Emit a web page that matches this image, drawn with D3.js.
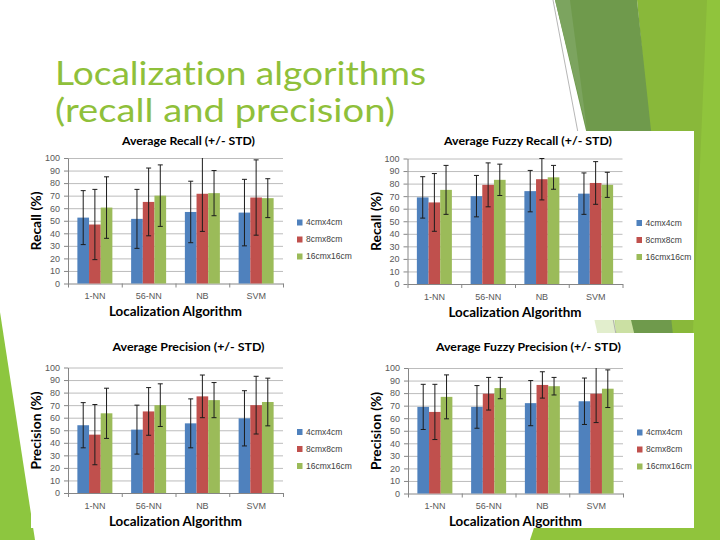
<!DOCTYPE html>
<html>
<head>
<meta charset="utf-8">
<script src="https://cdn.jsdelivr.net/npm/d3@7"></script>
<style>
  body { margin: 0; background: #fff; }
  svg { display: block; font-variant-ligatures: none; font-feature-settings: "liga" 0, "clig" 0; }
</style>
</head>
<body>
<div class="slide"></div>
<script>
// 類別 / 系列
var categories = ["1-NN", "56-NN", "NB", "SVM"];
var seriesNames = ["4cmx4cm", "8cmx8cm", "16cmx16cm"];
var yTicks = [0, 10, 20, 30, 40, 50, 60, 70, 80, 90, 100];

// Average Recall
var recall4 = [52.5, 51.5, 57, 56.5];
var recall8 = [47, 65, 71.5, 68.5];
var recall16 = [60.5, 70, 72, 68];
var recallStd4 = [21.5, 23.5, 24.5, 26.5];
var recallStd8 = [28, 27, 30, 30];
var recallStd16 = [24.5, 24.5, 18, 15.5];

// Average Fuzzy Recall
var fuzzyRecall4 = [69, 70, 74, 72];
var fuzzyRecall8 = [65, 79, 83.5, 80.5];
var fuzzyRecall16 = [75, 83, 85, 79];
var fuzzyRecallStd4 = [16.5, 16.5, 16.5, 16.5];
var fuzzyRecallStd8 = [23, 17.5, 16.5, 17];
var fuzzyRecallStd16 = [19.5, 12.5, 9.5, 10];

// Average Precision
var precision4 = [54, 50.5, 55.5, 59.5];
var precision8 = [46.5, 65, 77, 70];
var precision16 = [63.5, 70, 74, 72.5];
var precisionStd4 = [18, 19.5, 19.5, 22];
var precisionStd8 = [24, 19, 17, 23];
var precisionStd16 = [20, 17, 14, 19];

// Average Fuzzy Precision
var fuzzyPrecision4 = [69, 69, 72, 73.5];
var fuzzyPrecision8 = [65, 79.5, 86.5, 79.5];
var fuzzyPrecision16 = [77, 84, 85.5, 83.5];
var fuzzyPrecisionStd4 = [18, 17, 18, 18.5];
var fuzzyPrecisionStd8 = [22, 13, 10.5, 23];
var fuzzyPrecisionStd16 = [17.5, 8.5, 7, 15];

var colors = ["#4F81BD", "#C0504D", "#9BBB59"];

// 畫布
var width = 720;
var height = 540;

var svg = d3
  .select(".slide")
  .append("svg")
  .attr("width", width)
  .attr("height", height)
  .style("background-color", "#fff");

// 背景裝飾（右側與左下的綠色多邊形）
var deco = svg.append("g");
deco.append("polygon").attr("points", "706,0 720,0 720,540 530,540").attr("fill", "#90C43C");
deco.append("polygon").attr("points", "590,300 614,300 617,345 600,345").attr("fill", "#E2EECD");
deco.append("polygon").attr("points", "614,300 650,300 650,345 617,345").attr("fill", "#CBE0A3");
deco.append("polygon").attr("points", "637,0 707,0 690,400 675,400").attr("fill", "#89B83A");
deco.append("polygon").attr("points", "555,0 637,0 680,400 650,400").attr("fill", "#6F9A4C");
deco.append("polygon").attr("points", "555,0 570,0 587,130").attr("fill", "#7CA45F");
deco
  .append("line")
  .attr("x1", 553).attr("y1", 0).attr("x2", 618).attr("y2", 345)
  .attr("stroke", "#a3a3a3").attr("stroke-width", 0.8);
deco.append("polygon").attr("points", "0,312 0,540 35,540").attr("fill", "#8DC63F");

// 四張圖的設定
var panels = [
  {
    title: "Average Recall (+/- STD)", titleLen: 133, titleY: 140.5,
    yLabel: "Recall (%)", yLabelLen: 59,
    dx: 0, dy: 0, box: [28, 131, 338, 195],
    means: [recall4, recall8, recall16],
    stds: [recallStd4, recallStd8, recallStd16],
  },
  {
    title: "Average Fuzzy Recall (+/- STD)", titleLen: 168, titleY: 140.5,
    yLabel: "Recall (%)", yLabelLen: 59,
    dx: 339.5, dy: 0.5, box: [368, 131, 326, 189],
    means: [fuzzyRecall4, fuzzyRecall8, fuzzyRecall16],
    stds: [fuzzyRecallStd4, fuzzyRecallStd8, fuzzyRecallStd16],
  },
  {
    title: "Average Precision (+/- STD)", titleLen: 152, titleY: 137,
    yLabel: "Precision (%)", yLabelLen: 78,
    dx: 0, dy: 209.5, box: [31, 330, 335, 198],
    means: [precision4, precision8, precision16],
    stds: [precisionStd4, precisionStd8, precisionStd16],
  },
  {
    title: "Average Fuzzy Precision (+/- STD)", titleLen: 185, titleY: 137,
    yLabel: "Precision (%)", yLabelLen: 78,
    dx: 340, dy: 210, box: [368, 333, 326, 195],
    means: [fuzzyPrecision4, fuzzyPrecision8, fuzzyPrecision16],
    stds: [fuzzyPrecisionStd4, fuzzyPrecisionStd8, fuzzyPrecisionStd16],
  },
];

var plotLeft = 68;
var plotRight = 283;
var plotTop = 158;
var plotBottom = 283.5;
var groupWidth = 35;
var labelFont = "'Liberation Sans', Arial, sans-serif";
var titleFont = "Lato, 'Open Sans', sans-serif";

function drawPanel(p) {
  // 白色圖片底
  svg
    .append("rect")
    .attr("x", p.box[0]).attr("y", p.box[1])
    .attr("width", p.box[2]).attr("height", p.box[3])
    .attr("fill", "#fff");

  var g = svg.append("g").attr("transform", `translate(${p.dx},${p.dy})`);

  var x0 = d3.scaleBand().domain(categories).range([plotLeft, plotRight]);
  var x1 = d3
    .scaleBand()
    .domain(seriesNames)
    .range([(x0.bandwidth() - groupWidth) / 2, (x0.bandwidth() + groupWidth) / 2]);
  var y = d3.scaleLinear().domain([0, 100]).range([plotBottom, plotTop]);

  // 格線
  g.append("g")
    .attr("transform", `translate(${plotLeft},0)`)
    .call(
      d3.axisLeft(y).tickValues(yTicks.slice(1)).tickSize(-(plotRight - plotLeft)).tickFormat("")
    )
    .call((a) => a.select(".domain").remove())
    .selectAll("line")
    .attr("stroke", "#bcbcbc");

  // Y 軸
  var yAxis = g
    .append("g")
    .attr("transform", `translate(${plotLeft},0)`)
    .call(d3.axisLeft(y).tickValues(yTicks).tickSize(4).tickSizeOuter(0).tickPadding(4));
  yAxis.select(".domain").attr("stroke", "#868686");
  yAxis.selectAll("line").attr("stroke", "#868686");
  yAxis
    .selectAll("text")
    .attr("fill", "#595959")
    .style("font-family", labelFont)
    .style("font-size", "9px");

  // X 軸：分隔刻度在類別邊界
  var edge = d3.scaleLinear().domain([0, categories.length]).range([plotLeft, plotRight]);
  var xEdge = g
    .append("g")
    .attr("transform", `translate(0,${plotBottom})`)
    .call(
      d3.axisBottom(edge).tickValues(d3.range(categories.length + 1)).tickSize(4).tickSizeOuter(0).tickFormat("")
    );
  xEdge.select(".domain").attr("stroke", "#868686");
  xEdge.selectAll("line").attr("stroke", "#868686");

  var xAxis = g
    .append("g")
    .attr("transform", `translate(0,${plotBottom})`)
    .call(d3.axisBottom(x0).tickSize(0).tickPadding(9.5));
  xAxis.select(".domain").remove();
  xAxis
    .selectAll("text")
    .attr("fill", "#595959")
    .style("font-family", labelFont)
    .style("font-size", "9px");

  // 長條
  var rows = [];
  seriesNames.forEach(function (s, si) {
    categories.forEach(function (c, ci) {
      rows.push({ cat: c, series: s, si: si, mean: p.means[si][ci], std: p.stds[si][ci] });
    });
  });

  g.selectAll()
    .data(rows)
    .enter()
    .append("rect")
    .attr("x", (d) => x0(d.cat) + x1(d.series))
    .attr("y", (d) => y(d.mean))
    .attr("width", x1.bandwidth())
    .attr("height", (d) => y(0) - y(d.mean))
    .attr("fill", (d) => colors[d.si]);

  // 誤差線 (+/- STD)，超出 100 的部分截斷
  var eb = g
    .selectAll()
    .data(rows)
    .enter()
    .append("g")
    .attr("transform", (d) => `translate(${x0(d.cat) + x1(d.series) + x1.bandwidth() / 2},0)`)
    .attr("stroke", "#1c1c1c")
    .attr("stroke-width", 1);
  eb.append("line")
    .attr("y1", (d) => y(Math.max(0, d.mean - d.std)))
    .attr("y2", (d) => y(Math.min(100, d.mean + d.std)));
  eb.append("line")
    .attr("x1", -2.5).attr("x2", 2.5)
    .attr("y1", (d) => y(d.mean - d.std))
    .attr("y2", (d) => y(d.mean - d.std));
  eb.filter((d) => d.mean + d.std <= 100)
    .append("line")
    .attr("x1", -2.5).attr("x2", 2.5)
    .attr("y1", (d) => y(d.mean + d.std))
    .attr("y2", (d) => y(d.mean + d.std));

  // 標題
  g.append("text")
    .attr("x", 188.5)
    .attr("y", p.titleY)
    .attr("dy", "0.35em")
    .attr("text-anchor", "middle")
    .attr("textLength", p.titleLen)
    .attr("lengthAdjust", "spacingAndGlyphs")
    .style("font-family", titleFont)
    .style("font-size", "11.5px")
    .style("font-weight", "bold")
    .attr("fill", "#000")
    .text(p.title);

  // 軸標題
  g.append("text")
    .attr("x", (plotLeft + plotRight) / 2)
    .attr("y", 311.5)
    .attr("dy", "0.35em")
    .attr("text-anchor", "middle")
    .attr("textLength", 133)
    .attr("lengthAdjust", "spacingAndGlyphs")
    .style("font-family", titleFont)
    .style("font-size", "13.5px")
    .style("font-weight", "bold")
    .text("Localization Algorithm");

  g.append("text")
    .attr("transform", "translate(36.5,221) rotate(-90)")
    .attr("dy", "0.35em")
    .attr("text-anchor", "middle")
    .attr("textLength", p.yLabelLen)
    .attr("lengthAdjust", "spacingAndGlyphs")
    .style("font-family", titleFont)
    .style("font-size", "13.5px")
    .style("font-weight", "bold")
    .text(p.yLabel);

  // 圖例
  var legend = g
    .selectAll()
    .data(seriesNames)
    .enter()
    .append("g")
    .attr("transform", (d, i) => `translate(297,${222.5 + i * 17})`);
  legend
    .append("rect")
    .attr("y", -3)
    .attr("width", 5.5)
    .attr("height", 6)
    .attr("fill", (d, i) => colors[i]);
  legend
    .append("text")
    .attr("x", 9)
    .attr("dy", "0.35em")
    .attr("fill", "#404040")
    .style("font-family", labelFont)
    .style("font-size", "8.5px")
    .text((d) => d);
}

panels.forEach(drawPanel);

// 投影片標題
var slideTitle = ["Localization algorithms", "(recall and precision)"];
var slideTitleLen = [371, 340];
svg
  .selectAll()
  .data(slideTitle)
  .enter()
  .append("text")
  .attr("x", 55)
  .attr("y", (d, i) => 85 + i * 36.5)
  .attr("textLength", (d, i) => slideTitleLen[i])
  .attr("lengthAdjust", "spacingAndGlyphs")
  .style("font-family", titleFont)
  .style("font-size", "32px")
  .attr("fill", "#8FC03A")
  .text((d) => d);
</script>
</body>
</html>
